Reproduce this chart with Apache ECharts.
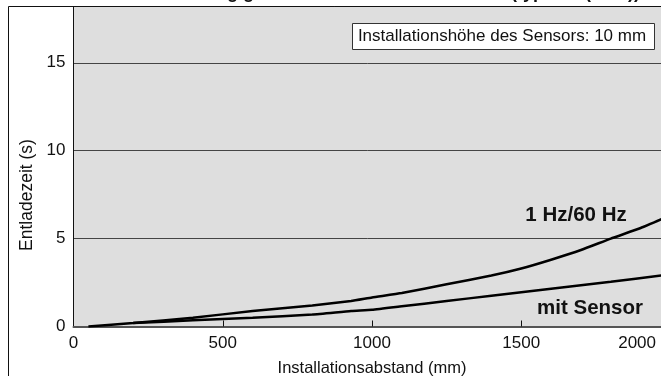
<!DOCTYPE html>
<html><head><meta charset="utf-8">
<script src="https://cdn.jsdelivr.net/npm/echarts@6/dist/echarts.min.js"></script>
<style>html,body{margin:0;padding:0;background:#fff}#c{width:661px;height:376px}</style>
</head><body><div id="c"></div>
<script>
const titleText = "Entladezeit in Abhängigkeit vom Installationsabstand (typisch (1 Hz))";
const xTickLabels = [0, 500, 1000, 1500, 2000];
const yTickLabels = [0, 5, 10, 15];
const hzDist  = [50, 200, 400, 600, 800, 930, 1000, 1100, 1250, 1400, 1500, 1600, 1700, 1800, 1900, 1970];
const hzTime  = [0, 0.2, 0.5, 0.88, 1.2, 1.45, 1.65, 1.9, 2.4, 2.9, 3.3, 3.8, 4.35, 5.0, 5.6, 6.1];
const senDist = [200, 400, 600, 800, 930, 1000, 1100, 1250, 1400, 1600, 1800, 1970];
const senTime = [0.2, 0.35, 0.5, 0.68, 0.88, 0.95, 1.15, 1.45, 1.75, 2.15, 2.55, 2.9];
const seriesNames = ["1 Hz/60 Hz", "mit Sensor"];
const noteText = "Installationshöhe des Sensors: 10 mm";
const xName = "Installationsabstand (mm)";
const yName = "Entladezeit (s)";

const FONT = "Liberation Sans";
const chart = echarts.init(document.getElementById('c'));
const zip = (a, b) => a.map((v, i) => [v, b[i]]);
chart.setOption({
  animation: false,
  grid: { left: 73.5, top: 6.5, right: -9.5, bottom: 49.5, outerBoundsMode: 'none', containLabel: false,
    show: true, backgroundColor: '#dedede', borderColor: '#111', borderWidth: 1 },
  xAxis: {
    type: 'value', min: 0, max: 2000, interval: 500,
    name: xName, nameLocation: 'middle', nameGap: 33,
    nameTextStyle: { fontFamily: FONT, fontSize: 16.5, color: '#111' },
    axisLine: { show: true, onZero: false, lineStyle: { color: '#555', width: 2 } },
    axisTick: { show: true, inside: true, length: 6, lineStyle: { color: '#111' }, customValues: xTickLabels.slice(1, 4) },
    axisLabel: { fontFamily: FONT, fontSize: 17, color: '#111', margin: 8, customValues: xTickLabels.slice(0, 4),
      formatter: v => String(v) },
    splitLine: { show: false }
  },
  yAxis: {
    type: 'value', min: 0, max: 18.2, interval: 5,
    axisLine: { show: true, lineStyle: { color: '#111', width: 1 } },
    axisTick: { show: false },
    axisLabel: { fontFamily: FONT, fontSize: 17, color: '#111', margin: 8, showMaxLabel: false,
      formatter: v => yTickLabels.includes(v) ? String(v) : '' },
    splitLine: { show: true, lineStyle: { color: '#444', width: 1 } }
  },
  series: [
    { name: seriesNames[0], type: 'line', data: zip(hzDist, hzTime), smooth: 0.15, showSymbol: false,
      lineStyle: { color: '#000', width: 2.5 }, z: 3 },
    { name: seriesNames[1], type: 'line', data: zip(senDist, senTime), smooth: 0.15, showSymbol: false,
      lineStyle: { color: '#000', width: 2.5 }, z: 3 }
  ],
  graphic: [
    { type: 'line', shape: { x1: 8.5, y1: 6.5, x2: 8.5, y2: 380 }, style: { stroke: '#111', lineWidth: 1 }, z: 10 },
    { type: 'line', shape: { x1: 8.5, y1: 6.5, x2: 661, y2: 6.5 }, style: { stroke: '#111', lineWidth: 1 }, z: 10 },
    { type: 'text', x: 345, y: 2, style: { text: titleText, font: 'bold 18px "Liberation Sans"', fill: '#111', align: 'center', verticalAlign: 'bottom' }, z: 10 },
    { type: 'text', x: 27, y: 195, rotation: Math.PI / 2, style: { text: yName, font: '17.5px "Liberation Sans"', fill: '#111', align: 'center', verticalAlign: 'middle' }, z: 11 },
    { type: 'rect', shape: { x: 352.5, y: 23.5, width: 302, height: 26 }, style: { fill: '#fff', stroke: '#333', lineWidth: 1 }, z: 10 },
    { type: 'text', x: 502, y: 36.5, style: { text: noteText, font: '17px "Liberation Sans"', fill: '#111', align: 'center', verticalAlign: 'middle' }, z: 11 },
    { type: 'text', x: 576, y: 215, style: { text: seriesNames[0], font: 'bold 20.5px "Liberation Sans"', fill: '#111', align: 'center', verticalAlign: 'middle' }, z: 11 },
    { type: 'text', x: 590, y: 308, style: { text: seriesNames[1], font: 'bold 20.5px "Liberation Sans"', fill: '#111', align: 'center', verticalAlign: 'middle' }, z: 11 },
    { type: 'text', x: 656, y: 343, style: { text: String(xTickLabels[4]), font: '17px "Liberation Sans"', fill: '#111', align: 'right', verticalAlign: 'middle' }, z: 11 }
  ]
});
</script></body></html>
